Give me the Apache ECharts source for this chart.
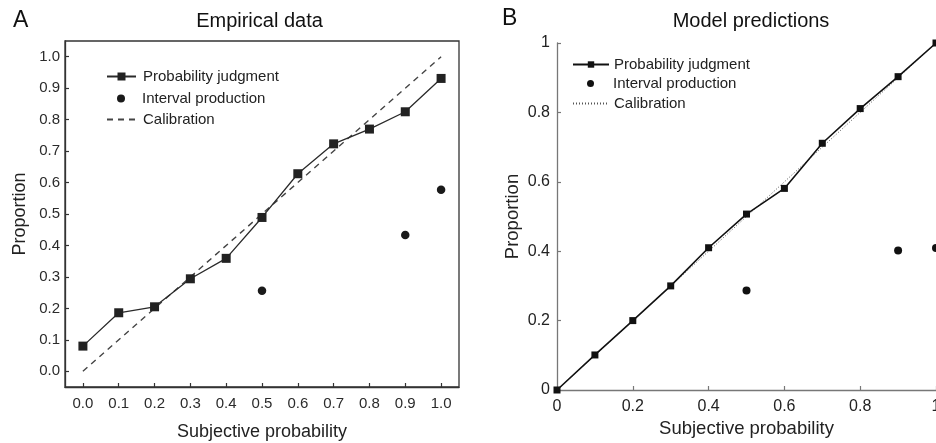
<!DOCTYPE html>
<html>
<head>
<meta charset="utf-8">
<script src="https://cdn.jsdelivr.net/npm/echarts@6/dist/echarts.min.js"></script>
<style>
  html, body { margin: 0; padding: 0; background: #fff; }
  #chart { width: 936px; height: 443px; }
</style>
</head>
<body>
<div id="chart"></div>
<script>
// Subjective probability levels (x values shared by both panels)
const probLevels = [0.0, 0.1, 0.2, 0.3, 0.4, 0.5, 0.6, 0.7, 0.8, 0.9, 1.0];

// Panel A: empirical data
const empJudgment = [0.08, 0.186, 0.205, 0.294, 0.359, 0.489, 0.628, 0.723, 0.770, 0.825, 0.931];
const empIntervalX = [0.5, 0.9, 1.0];
const empIntervalY = [0.256, 0.433, 0.577];

// Panel B: model predictions
const modelJudgment = [0.0, 0.101, 0.200, 0.300, 0.410, 0.507, 0.581, 0.711, 0.811, 0.903, 1.0];
const modelIntervalX = [0.5, 0.9, 1.0];
const modelIntervalY = [0.287, 0.402, 0.409];

// Perfect calibration diagonal
const calibX = [0.0, 1.0];
const calibY = [0.0, 1.0];

// Tick labels
const tickA = [0.0, 0.1, 0.2, 0.3, 0.4, 0.5, 0.6, 0.7, 0.8, 0.9, 1.0];
const tickB = [0, 0.2, 0.4, 0.6, 0.8, 1];

const FONT = 'Liberation Sans, Arial, sans-serif';
const INK = '#222';

const zip = (xs, ys) => xs.map((x, i) => [x, ys[i]]);
const stripPanel = n => n.replace(/^[AB]\|/, '');

const chart = echarts.init(document.getElementById('chart'), null, { renderer: 'canvas' });

function axisA(nameText, isY) {
  return {
    type: 'value',
    gridIndex: 0,
    min: -0.05, max: 1.05,
    name: nameText,
    nameLocation: 'middle',
    nameGap: 36,
    nameTextStyle: { fontFamily: FONT, fontSize: 18, color: INK },
    axisLine: { show: true, onZero: false, lineStyle: { color: '#333', width: 1.3 } },
    axisTick: { show: true, inside: true, length: 4, customValues: tickA, lineStyle: { color: '#333', width: 1.2 } },
    axisLabel: {
      show: true, customValues: tickA, margin: isY ? 5 : 9,
      fontFamily: FONT, fontSize: 15, color: '#2b2b2b',
      formatter: v => Number(v).toFixed(1)
    },
    splitLine: { show: false }
  };
}

function axisB(nameText, isY) {
  return {
    type: 'value',
    gridIndex: 1,
    min: 0, max: 1, interval: 0.2,
    name: nameText,
    nameLocation: 'middle',
    nameGap: isY ? 35 : 29,
    nameTextStyle: { fontFamily: FONT, fontSize: 18.5, color: INK },
    axisLine: { show: true, onZero: false, lineStyle: { color: '#777', width: 1.3 } },
    axisTick: { show: true, inside: true, length: 4, customValues: tickB, lineStyle: { color: '#777', width: 1.2 } },
    axisLabel: {
      show: true, customValues: tickB, margin: isY ? 7 : 9,
      fontFamily: FONT, fontSize: 16, color: INK,
      showMinLabel: true, showMaxLabel: true,
      formatter: v => String(Math.round(v * 10) / 10)
    },
    splitLine: { show: false }
  };
}

function legendRow(opts) {
  const base = {
    orient: 'horizontal',
    padding: 0,
    itemGap: 0,
    selectedMode: false,
    formatter: stripPanel
  };
  const pad = opts.textPad || 0;
  delete opts.textPad;
  base.textStyle = { fontFamily: FONT, fontSize: 15, color: INK, padding: [0, 0, 0, pad] };
  return Object.assign(base, opts);
}

const option = {
  backgroundColor: '#fff',
  animation: false,
  grid: [
    { left: 65, right: 477, top: 41, bottom: 56, show: true, borderColor: '#333', borderWidth: 1.3,
      containLabel: false, outerBoundsMode: 'none' },
    { left: 557, right: 0, top: 43, bottom: 53, show: false, containLabel: false, outerBoundsMode: 'none' }
  ],
  xAxis: [axisA('Subjective probability', false), axisB('Subjective probability', false)],
  yAxis: [axisA('Proportion', true), axisB('Proportion', true)],
  legend: [
    legendRow({ left: 106, top: 69, itemWidth: 29, itemHeight: 10, textPad: 2, data: ['A|Probability judgment'] }),
    legendRow({ left: 117, top: 91, itemWidth: 8, itemHeight: 8, textPad: 12, data: ['A|Interval production'] }),
    legendRow({ left: 106, top: 112, itemWidth: 29, itemHeight: 10, textPad: 2,
      data: [{ name: 'A|Calibration', itemStyle: { opacity: 0 } }] }),
    legendRow({ left: 572, top: 57, itemWidth: 36, itemHeight: 8, data: ['B|Probability judgment'] }),
    legendRow({ left: 587, top: 76, itemWidth: 7, itemHeight: 7, textPad: 14, data: ['B|Interval production'] }),
    legendRow({ left: 572, top: 96, itemWidth: 36, itemHeight: 8,
      data: [{ name: 'B|Calibration', itemStyle: { opacity: 0 } }] })
  ],
  graphic: [
    { type: 'text', x: 13, y: 21, style: { text: 'A', font: '23px ' + FONT, fill: '#111', textVerticalAlign: 'middle' } },
    { type: 'text', x: 259.5, y: 21, style: { text: 'Empirical data', font: '20px ' + FONT, fill: '#111', textAlign: 'center', textVerticalAlign: 'middle' } },
    { type: 'text', x: 502, y: 19, style: { text: 'B', font: '23px ' + FONT, fill: '#111', textVerticalAlign: 'middle' } },
    { type: 'text', x: 751, y: 21, style: { text: 'Model predictions', font: '20px ' + FONT, fill: '#111', textAlign: 'center', textVerticalAlign: 'middle' } }
  ],
  series: [
    // Panel A
    {
      name: 'A|Calibration', type: 'line', xAxisIndex: 0, yAxisIndex: 0,
      data: zip(calibX, calibY), symbol: 'none', z: 2,
      lineStyle: { color: '#444', width: 1.4, type: [6, 5] },
      itemStyle: { color: '#444' }
    },
    {
      name: 'A|Probability judgment', type: 'line', xAxisIndex: 0, yAxisIndex: 0,
      data: zip(probLevels, empJudgment), symbol: 'rect', symbolSize: 9, z: 3,
      lineStyle: { color: '#2a2a2a', width: 1.3 },
      itemStyle: { color: '#222' }
    },
    {
      name: 'A|Interval production', type: 'scatter', xAxisIndex: 0, yAxisIndex: 0,
      data: zip(empIntervalX, empIntervalY), symbol: 'circle', symbolSize: 8.5, z: 3,
      itemStyle: { color: '#1a1a1a', opacity: 1 }
    },
    // Panel B
    {
      name: 'B|Calibration', type: 'line', xAxisIndex: 1, yAxisIndex: 1,
      data: zip(calibX, calibY), symbol: 'none', z: 2,
      lineStyle: { color: '#555', width: 1, type: [1, 2] },
      itemStyle: { color: '#555' }
    },
    {
      name: 'B|Probability judgment', type: 'line', xAxisIndex: 1, yAxisIndex: 1,
      data: zip(probLevels, modelJudgment), symbol: 'rect', symbolSize: 7, z: 3,
      lineStyle: { color: '#111', width: 1.6 },
      itemStyle: { color: '#111' }
    },
    {
      name: 'B|Interval production', type: 'scatter', xAxisIndex: 1, yAxisIndex: 1,
      data: zip(modelIntervalX, modelIntervalY), symbol: 'circle', symbolSize: 8, z: 3,
      itemStyle: { color: '#111', opacity: 1 }
    }
  ]
};

chart.setOption(option);
</script>
</body>
</html>
